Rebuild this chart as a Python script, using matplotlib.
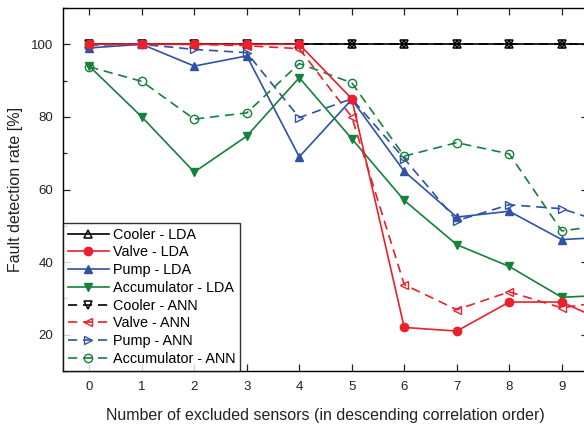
import matplotlib
matplotlib.use("Agg")
import matplotlib.pyplot as plt
from matplotlib.ticker import MultipleLocator

plt.rcParams['font.family'] = ['Liberation Sans', 'DejaVu Sans']

x = [0, 1, 2, 3, 4, 5, 6, 7, 8, 9, 10]
cooler_lda = [100, 100, 100, 100, 100, 100, 100, 100, 100, 100, 100]
valve_lda = [100, 100, 100, 100, 100, 85, 22, 21, 29, 29, 22.5]
pump_lda = [99, 100, 94, 96.8, 69, 84.8, 65, 52.4, 54, 46.2, 47]
acc_lda = [94, 80, 64.8, 74.7, 90.8, 74, 57, 44.8, 38.8, 30.3, 31]
cooler_ann = [100, 100, 100, 100, 100, 100, 100, 100, 100, 100, 100]
valve_ann = [100, 100, 100, 99.6, 98.8, 80, 33.8, 26.9, 31.8, 27.4, 29.5]
pump_ann = [99.8, 100, 98.6, 97.7, 79.8, 85, 68.5, 51.4, 55.8, 54.7, 50]
acc_ann = [93.8, 89.8, 79.4, 81.1, 94.7, 89.4, 69.2, 72.9, 69.8, 48.6, 50.5]

red = '#e8212b'
blue = '#2f52a6'
green = '#16803c'
black = '#000000'

fig = plt.figure(figsize=(5.84, 4.24), dpi=100)
ax = fig.add_axes([63/584, 53/424, 525/584, 363/424])

lw = 1.2
ms = 6
dash = (0, (5.5, 3.5))
ax.plot(x, cooler_lda, color=black, lw=lw, marker='^', ms=ms, mfc='none', mec=black, mew=1.1, label='Cooler - LDA', zorder=3)
ax.plot(x, valve_lda, color=red, lw=lw, marker='o', ms=ms, mfc=red, mec=red, label='Valve - LDA', zorder=5)
ax.plot(x, pump_lda, color=blue, lw=lw, marker='^', ms=ms, mfc=blue, mec=blue, label='Pump - LDA', zorder=4)
ax.plot(x, acc_lda, color=green, lw=lw, marker='v', ms=ms, mfc=green, mec=green, label='Accumulator - LDA', zorder=4)
ax.plot(x, cooler_ann, color=black, lw=lw, ls=dash, marker='v', ms=ms, mfc='none', mec=black, mew=1.1, label='Cooler - ANN', zorder=3)
ax.plot(x, valve_ann, color=red, lw=lw, ls=dash, marker='<', ms=ms, mfc='none', mec=red, mew=1.0, label='Valve - ANN', zorder=4)
ax.plot(x, pump_ann, color=blue, lw=lw, ls=dash, marker='>', ms=ms, mfc='none', mec=blue, mew=1.0, label='Pump - ANN', zorder=4)
ax.plot(x, acc_ann, color=green, lw=lw, ls=dash, marker='o', ms=ms, mfc='none', mec=green, mew=1.0, label='Accumulator - ANN', zorder=4)

ax.set_xlim(-0.5, 9.5)
ax.set_ylim(10, 110)
ax.xaxis.set_major_locator(MultipleLocator(1))
ax.yaxis.set_minor_locator(MultipleLocator(10))
ax.set_yticks([20, 40, 60, 80, 100])
ax.tick_params(which='both', direction='in', top=True, right=True, labelsize=9.5, colors='#222222', pad=7)
ax.tick_params(which='major', length=5, width=0.9)
ax.tick_params(which='minor', length=3, width=0.9)
for s in ax.spines.values():
    s.set_linewidth(1.0)

ax.set_xlabel('Number of excluded sensors (in descending correlation order)', fontsize=11.5, color='#222222', labelpad=11)
ax.set_ylabel('Fault detection rate [%]', fontsize=11.5, color='#222222', labelpad=6)

leg = ax.legend(loc='lower left', borderaxespad=0, fontsize=10.4, frameon=True, fancybox=False,
                edgecolor=black, handlelength=2.8, handletextpad=0.3, labelspacing=0.26,
                borderpad=0.35)
leg.get_frame().set_linewidth(1.0)
leg.set_zorder(10)

fig.savefig('out.png', dpi=100)
